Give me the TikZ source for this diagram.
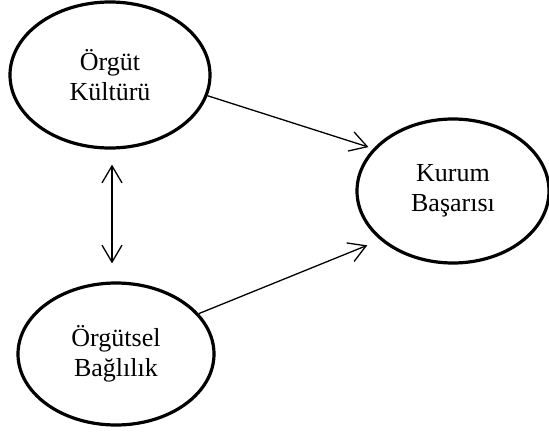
\documentclass[tikz,border=0pt]{standalone}
\usepackage{fontspec}
\setmainfont{Liberation Serif}
\usetikzlibrary{shapes.geometric,arrows.meta}
\begin{document}
\begin{tikzpicture}[x=1pt,y=-1pt,
  oval/.style={ellipse, draw, line width=3.2pt, inner sep=0pt, align=center,
    font=\fontsize{26}{30}\selectfont},
  link/.style={line width=1.3pt, -{Straight Barb[length=17pt,width=20pt,line width=1.3pt]}}
]
\useasboundingbox (0,0) rectangle (549,434);
\node[oval, minimum width=200pt, minimum height=146pt] (kultur) at (110,75) {Örgüt\\Kültürü};
\node[oval, minimum width=196pt, minimum height=142pt] (bag) at (116,354) {Örgütsel\\Bağlılık};
\node[oval, minimum width=192pt, minimum height=144pt] (kurum) at (453,191) {Kurum\\Başarısı};
\draw[link, shorten >=5pt] (kultur.-12) -- (kurum.152.6);
\draw[link, shorten >=14pt] (bag.26) -- (kurum.214.5);
\draw[link, {Straight Barb[length=17pt,width=20pt,line width=1.3pt]}-{Straight Barb[length=17pt,width=20pt,line width=1.3pt]}, shorten <=15pt, shorten >=18pt]
  ([xshift=2pt]kultur.south) -- ([xshift=2pt]kultur.south |- bag.north);
\end{tikzpicture}
\end{document}
